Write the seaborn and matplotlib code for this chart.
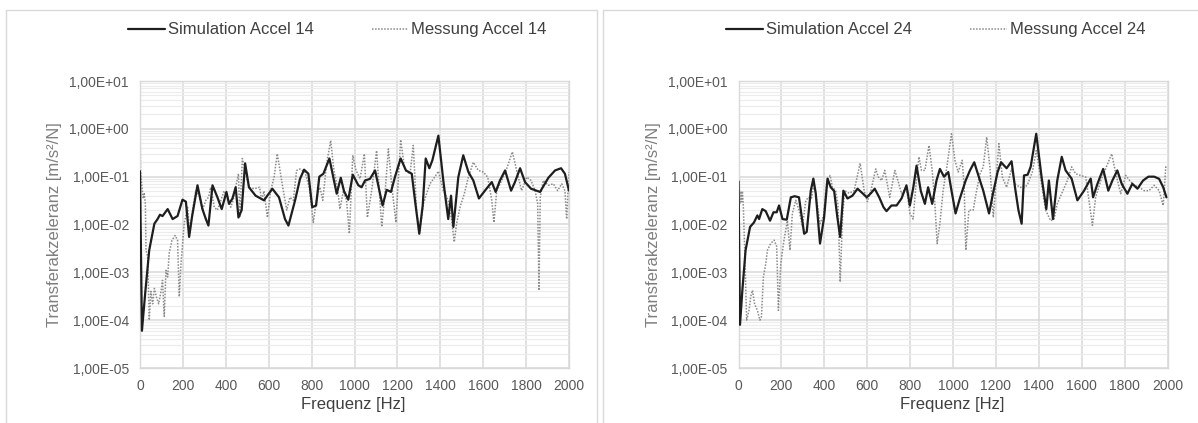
import numpy as np
import pandas as pd
import matplotlib
matplotlib.use("Agg")
import matplotlib.pyplot as plt
import matplotlib.ticker as mticker
from matplotlib.patches import Rectangle
import seaborn as sns

# ---------------- data ----------------
sim14_hz = [0, 9, 25, 43, 67, 82, 93, 105, 129, 152, 175, 198, 214, 229, 242, 268, 291, 307, 319, 338,
            361, 381, 403, 415, 431, 446, 459, 474, 490, 508, 539, 578, 617, 648, 676, 692, 723, 746, 765,
            785, 803, 821, 836, 855, 883, 901, 917, 936, 951, 971, 992, 1018, 1033, 1049, 1072, 1096,
            1119, 1131, 1150, 1170, 1189, 1215, 1240, 1267, 1282, 1302, 1318, 1332, 1349, 1363, 1391,
            1414, 1437, 1450, 1461, 1484, 1507, 1531, 1554, 1580, 1608, 1640, 1658, 1678, 1702, 1730,
            1748, 1772, 1795, 1823, 1865, 1904, 1935, 1963, 1981, 2000]
sim14_val = [0.13, 6e-5, 4e-4, 2.9e-3, 0.0104, 0.013, 0.016, 0.015, 0.021, 0.013, 0.015, 0.033, 0.03,
             0.0055, 0.014, 0.066, 0.021, 0.013, 0.0095, 0.066, 0.037, 0.021, 0.048, 0.027, 0.035, 0.06,
             0.014, 0.02, 0.19, 0.06, 0.04, 0.032, 0.056, 0.037, 0.013, 0.0095, 0.032, 0.09, 0.14, 0.115,
             0.023, 0.025, 0.1, 0.115, 0.24, 0.098, 0.044, 0.095, 0.05, 0.033, 0.11, 0.066, 0.06, 0.083,
             0.09, 0.135, 0.044, 0.025, 0.053, 0.048, 0.1, 0.24, 0.135, 0.115, 0.032, 0.0064, 0.025, 0.24,
             0.15, 0.22, 0.72, 0.083, 0.013, 0.04, 0.0089, 0.098, 0.28, 0.125, 0.083, 0.035, 0.051, 0.077,
             0.048, 0.083, 0.135, 0.051, 0.077, 0.15, 0.077, 0.056, 0.048, 0.095, 0.135, 0.15, 0.115, 0.051]

mess14_hz = [0, 3, 9, 15, 20, 25, 28, 36, 43, 51, 59, 67, 77, 87, 98, 105, 113, 121, 129, 136, 149, 164,
             175, 183, 191, 206, 222, 232, 245, 260, 276, 291, 307, 319, 330, 346, 361, 377, 392, 408,
             423, 434, 446, 459, 465, 477, 493, 508, 532, 558, 567, 578, 594, 609, 625, 640, 651, 668,
             684, 699, 715, 730, 746, 769, 789, 808, 824, 839, 852, 870, 889, 904, 920, 932, 948, 963,
             976, 992, 1007, 1026, 1046, 1060, 1080, 1103, 1127, 1142, 1158, 1173, 1193, 1215, 1235,
             1259, 1274, 1290, 1305, 1321, 1336, 1352, 1375, 1391, 1414, 1437, 1453, 1465, 1476, 1492,
             1512, 1531, 1554, 1577, 1601, 1621, 1640, 1650, 1663, 1686, 1709, 1736, 1756, 1779, 1803,
             1823, 1842, 1854, 1860, 1866, 1880, 1904, 1927, 1947, 1966, 1981, 1989, 2000]
mess14_val = [1.5, 0.13, 0.06, 0.035, 0.044, 0.027, 0.0029, 0.0021, 1e-4, 4e-4, 2.2e-4, 4.6e-4, 3e-4,
              2.2e-4, 4e-4, 6.8e-4, 1.2e-4, 1.1e-3, 8e-4, 2.5e-3, 4.7e-3, 5.9e-3, 4.7e-3, 3.1e-4, 1.5e-3,
              0.0104, 0.023, 0.0064, 0.02, 0.051, 0.04, 0.02, 0.032, 0.037, 0.06, 0.023, 0.02, 0.032, 0.05,
              0.037, 0.023, 0.032, 0.06, 0.115, 0.014, 0.24, 0.115, 0.06, 0.056, 0.06, 0.032, 0.05, 0.014,
              0.05, 0.098, 0.3, 0.15, 0.051, 0.02, 0.037, 0.032, 0.135, 0.145, 0.125, 0.06, 0.011, 0.037,
              0.06, 0.032, 0.19, 0.57, 0.135, 0.06, 0.021, 0.05, 0.032, 0.0064, 0.28, 0.135, 0.091, 0.3,
              0.014, 0.051, 0.35, 0.0089, 0.044, 0.38, 0.071, 0.011, 0.59, 0.135, 0.115, 0.45, 0.017,
              0.0075, 0.027, 0.044, 0.071, 0.1, 0.13, 0.051, 0.032, 0.012, 0.0043, 0.0105, 0.023, 0.044,
              0.098, 0.2, 0.135, 0.125, 0.098, 0.032, 0.011, 0.051, 0.083, 0.145, 0.33, 0.135, 0.051,
              0.098, 0.083, 0.051, 0.027, 4.2e-4, 0.037, 0.083, 0.066, 0.071, 0.051, 0.071, 0.051, 0.013,
              0.125]

sim24_hz = [0, 7, 18, 33, 54, 72, 88, 96, 111, 127, 147, 163, 178, 189, 205, 225, 244, 262, 282, 306,
            318, 337, 349, 360, 380, 399, 415, 430, 446, 461, 474, 489, 508, 531, 555, 578, 598, 617,
            635, 656, 676, 690, 713, 737, 760, 783, 799, 815, 830, 850, 869, 884, 903, 923, 939, 958,
            978, 993, 1012, 1032, 1059, 1079, 1099, 1118, 1141, 1168, 1188, 1208, 1224, 1250, 1273,
            1289, 1305, 1320, 1331, 1348, 1362, 1388, 1413, 1435, 1447, 1466, 1486, 1507, 1525, 1553,
            1580, 1611, 1642, 1653, 1673, 1700, 1724, 1743, 1766, 1787, 1813, 1836, 1860, 1886, 1911,
            1938, 1961, 1980, 1995]
sim24_val = [0.08, 8e-5, 4.2e-4, 2.9e-3, 8.9e-3, 0.011, 0.0155, 0.013, 0.021, 0.019, 0.012, 0.018, 0.018,
             0.025, 0.013, 0.0126, 0.037, 0.039, 0.037, 0.0064, 0.007, 0.051, 0.091, 0.045, 0.004, 0.014,
             0.091, 0.06, 0.05, 0.014, 0.0055, 0.051, 0.035, 0.04, 0.056, 0.045, 0.037, 0.045, 0.056,
             0.037, 0.023, 0.019, 0.025, 0.025, 0.035, 0.066, 0.025, 0.06, 0.17, 0.05, 0.027, 0.06, 0.027,
             0.083, 0.145, 0.1, 0.125, 0.051, 0.017, 0.035, 0.083, 0.135, 0.2, 0.107, 0.051, 0.017, 0.048,
             0.125, 0.2, 0.15, 0.21, 0.06, 0.02, 0.0104, 0.106, 0.11, 0.16, 0.79, 0.098, 0.021, 0.083,
             0.013, 0.083, 0.26, 0.135, 0.091, 0.032, 0.051, 0.091, 0.037, 0.07, 0.145, 0.051, 0.083,
             0.135, 0.07, 0.044, 0.071, 0.056, 0.083, 0.1, 0.1, 0.09, 0.06, 0.037]

mess24_hz = [0, 4, 7, 11, 15, 18, 22, 29, 38, 49, 57, 65, 75, 88, 100, 107, 116, 127, 135, 150, 166,
             178, 186, 197, 212, 228, 240, 251, 267, 282, 298, 313, 324, 340, 352, 364, 380, 396, 412,
             427, 438, 453, 464, 474, 485, 495, 516, 539, 567, 586, 601, 617, 640, 651, 667, 682, 705,
             729, 741, 760, 783, 799, 814, 830, 841, 853, 869, 888, 903, 916, 926, 939, 954, 970, 993,
             1009, 1024, 1043, 1052, 1060, 1074, 1094, 1110, 1126, 1141, 1157, 1172, 1188, 1203, 1214,
             1230, 1250, 1273, 1289, 1312, 1336, 1348, 1370, 1388, 1409, 1432, 1455, 1471, 1486, 1510,
             1533, 1553, 1572, 1595, 1619, 1634, 1650, 1665, 1689, 1715, 1740, 1759, 1782, 1805, 1824,
             1844, 1868, 1891, 1914, 1938, 1961, 1980, 1992, 2000]
mess24_val = [2.8, 0.06, 0.027, 0.05, 0.03, 0.05, 0.027, 0.0029, 1e-4, 1.6e-4, 3.1e-4, 4.2e-4, 2.2e-4,
              1.6e-4, 1e-4, 1.2e-4, 8e-4, 1.5e-3, 2.9e-3, 4e-3, 4.7e-3, 3.5e-3, 1.6e-4, 1.5e-3, 4.7e-3,
              0.012, 0.0029, 0.017, 0.032, 0.02, 0.009, 0.03, 0.037, 0.035, 0.071, 0.035, 0.0104, 0.015,
              0.083, 0.106, 0.06, 0.051, 0.025, 6.3e-4, 0.014, 0.051, 0.045, 0.051, 0.19, 0.051, 0.03,
              0.051, 0.145, 0.1, 0.083, 0.135, 0.037, 0.135, 0.09, 0.044, 0.06, 0.017, 0.013, 0.091, 0.26,
              0.135, 0.135, 0.45, 0.135, 0.025, 0.004, 0.0105, 0.051, 0.145, 0.79, 0.22, 0.125, 0.22, 0.06,
              0.0029, 0.02, 0.02, 0.051, 0.115, 0.16, 0.67, 0.16, 0.014, 0.115, 0.49, 0.098, 0.06, 0.145,
              0.071, 0.06, 0.06, 0.07, 0.125, 0.35, 0.091, 0.02, 0.012, 0.013, 0.027, 0.048, 0.083, 0.16,
              0.115, 0.106, 0.098, 0.032, 0.0096, 0.037, 0.083, 0.16, 0.3, 0.115, 0.044, 0.106, 0.083,
              0.066, 0.06, 0.051, 0.051, 0.066, 0.051, 0.025, 0.16, 0.15]

panels = [
    ("Simulation Accel 14", "Messung Accel 14", sim14_hz, sim14_val, mess14_hz, mess14_val),
    ("Simulation Accel 24", "Messung Accel 24", sim24_hz, sim24_val, mess24_hz, mess24_val),
]
y_ticks = [1e-5, 1e-4, 1e-3, 1e-2, 1e-1, 1e0, 1e1]
x_ticks = list(range(0, 2001, 200))
x_label = "Frequenz [Hz]"
y_label = "Transferakzeleranz [m/s²/N]"

# ---------------- style ----------------
sns.set_theme(style="white")
plt.rcParams["font.family"] = ["Liberation Sans", "DejaVu Sans"]

W, H = 1198, 423
fig = plt.figure(figsize=(W / 100, H / 100), dpi=100)

# chart area borders (two Excel charts side by side)
for (x0, x1) in [(6, 597), (603, 1204)]:
    fig.patches.append(Rectangle((x0 / W, -0.05), (x1 - x0) / W, (H - 10) / H + 0.05,
                                 transform=fig.transFigure, fill=False,
                                 edgecolor="#d9d9d9", linewidth=1.0))

axes_left_px = [140, 738.5]
ax_w, ax_top, ax_bot = 429, 81, 368

def sci_comma(v, pos):
    if v <= 0:
        return ""
    e = int(np.floor(np.log10(v) + 1e-9))
    m = v / 10 ** e
    return f"{m:.2f}".replace(".", ",") + f"E{e:+03d}"

for (lab_s, lab_m, shz, sval, mhz, mval), lpx in zip(panels, axes_left_px):
    ax = fig.add_axes([lpx / W, (H - ax_bot) / H, ax_w / W, (ax_bot - ax_top) / H])
    df_s = pd.DataFrame({"f": shz, "v": sval})
    df_m = pd.DataFrame({"f": mhz, "v": mval})
    sns.lineplot(data=df_s, x="f", y="v", ax=ax, color="#1e1e1e", linewidth=1.6,
                 estimator=None, sort=False, label=lab_s, zorder=3)
    sns.lineplot(data=df_m, x="f", y="v", ax=ax, color="#8a8a8a", linewidth=1.1,
                 linestyle=(0, (1, 1)), estimator=None, sort=False, label=lab_m, zorder=2)
    ax.set_yscale("log")
    ax.set_xlim(0, 2000)
    ax.set_ylim(1e-5, 1e1)
    ax.xaxis.set_major_locator(mticker.FixedLocator(x_ticks))
    ax.yaxis.set_major_locator(mticker.FixedLocator(y_ticks))
    ax.yaxis.set_minor_locator(mticker.LogLocator(base=10, subs=np.arange(2, 10), numticks=20))
    ax.yaxis.set_major_formatter(mticker.FuncFormatter(sci_comma))
    ax.yaxis.set_minor_formatter(mticker.NullFormatter())
    ax.grid(True, which="major", axis="both", color="#d9d9d9", linewidth=1.1)
    ax.grid(True, which="minor", axis="y", color="#ececec", linewidth=0.8)
    ax.set_axisbelow(True)
    for sp in ax.spines.values():
        sp.set_color("#d9d9d9")
        sp.set_linewidth(1.0)
    ax.tick_params(axis="both", which="both", length=0, labelsize=10, colors="#595959", pad=8)
    ax.set_xlabel(x_label, fontsize=12, color="#404040")
    ax.set_ylabel(y_label, fontsize=12, color="#7f7f7f")
    ax.xaxis.set_label_coords(0.498, -0.101)
    ax.yaxis.set_label_coords(-0.181, 0.5)
    ax.legend(loc="center", bbox_to_anchor=(0.46, 1.178), ncol=2, frameon=False,
              fontsize=12, handlelength=2.2, handletextpad=0.18, columnspacing=3.5,
              labelcolor="#404040")

fig.savefig("out.png", dpi=100)
